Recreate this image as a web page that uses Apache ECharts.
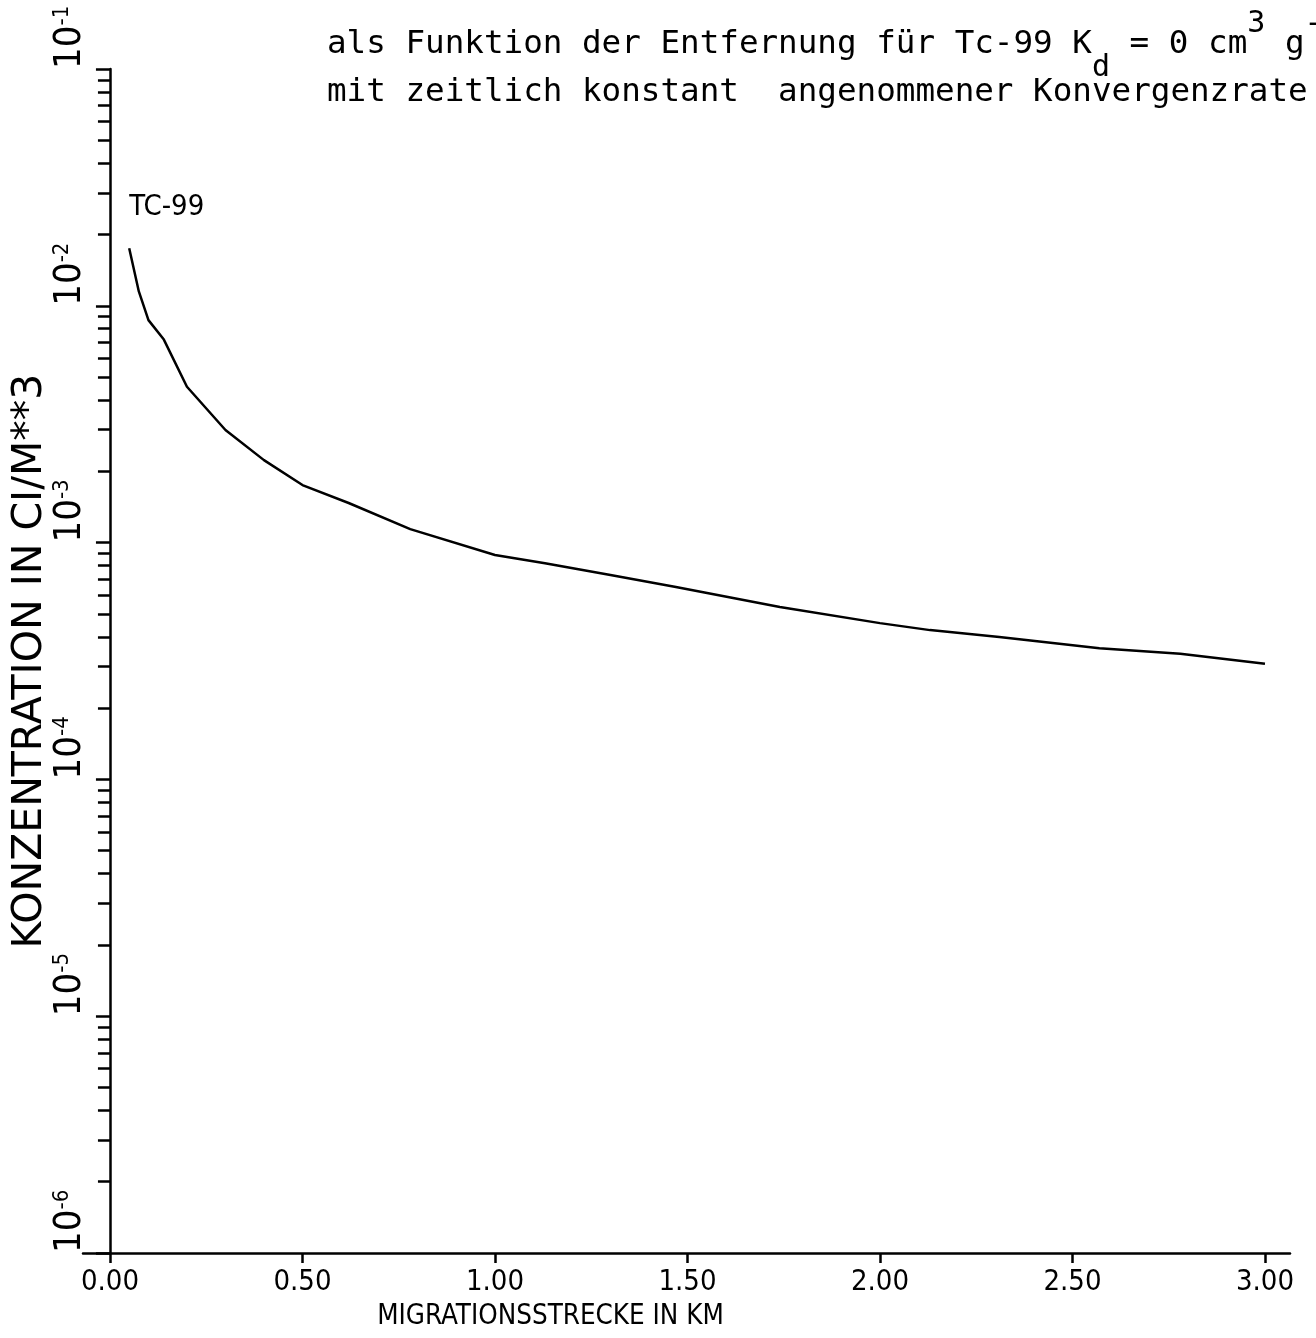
<!DOCTYPE html>
<html>
<head>
<meta charset="utf-8">
<script src="https://cdn.jsdelivr.net/npm/echarts@6/dist/echarts.min.js"></script>
<style>
  html, body { margin: 0; padding: 0; background: #fff; }
  #chart { width: 1316px; height: 1338px; }
</style>
</head>
<body>
<div id="chart"></div>
<script>
// ---- data ----
const xKm = [0.05, 0.075, 0.10, 0.14, 0.20, 0.30, 0.40, 0.50, 0.62, 0.78, 1.00, 1.13, 1.30, 1.47, 1.74, 2.00, 2.13, 2.31, 2.57, 2.78, 3.00];
const concTc99 = [1.75e-2, 1.15e-2, 8.7e-3, 7.2e-3, 4.55e-3, 2.99e-3, 2.23e-3, 1.75e-3, 1.47e-3, 1.14e-3, 8.87e-4, 8.18e-4, 7.3e-4, 6.5e-4, 5.35e-4, 4.57e-4, 4.27e-4, 3.99e-4, 3.58e-4, 3.39e-4, 3.08e-4];
const seriesName = 'TC-99';
const xTickValues = [0, 0.5, 1.0, 1.5, 2.0, 2.5, 3.0];
const xTickLabels = ['0.00', '0.50', '1.00', '1.50', '2.00', '2.50', '3.00'];
const yDecadeExponents = [-6, -5, -4, -3, -2, -1];
const xTitle = 'MIGRATIONSSTRECKE IN KM';
const yTitle = 'KONZENTRATION IN CI/M**3';

const chart = echarts.init(document.getElementById('chart'), null, { renderer: 'canvas' });

const lineData = xKm.map((x, i) => [x, concTc99[i]]);
const plotFont = '"DejaVu Sans Condensed", "DejaVu Sans", sans-serif';
const monoFont = '"DejaVu Sans Mono", monospace';

const option = {
  backgroundColor: '#ffffff',
  animation: false,
  title: {
    left: 322,
    top: 16,
    text: '{n|als Funktion der Entfernung für Tc-99 K}{sub|d}{n| = 0 cm}{sup|3}{n| g}{sup|-1}\n{n|mit zeitlich konstant  angenommener Konvergenzrate}',
    textStyle: {
      fontWeight: 'normal',
      rich: {
        n: { fontFamily: monoFont, fontWeight: 'normal', fontSize: 32.6, lineHeight: 48, color: '#000' },
        sub: { fontFamily: monoFont, fontWeight: 'normal', fontSize: 30, lineHeight: 48, verticalAlign: 'bottom', color: '#000', padding: [0, 0, -14, 0] },
        sup: { fontFamily: monoFont, fontWeight: 'normal', fontSize: 30, lineHeight: 48, verticalAlign: 'top', color: '#000', padding: [-12, 0, 0, 0] }
      }
    }
  },
  grid: { left: 83, right: 26, top: 69, bottom: 85, containLabel: false, outerBoundsMode: 'none' },
  xAxis: {
    type: 'value',
    min: -0.07,
    max: 3.065,
    name: xTitle,
    nameLocation: 'middle',
    nameGap: 50,
    nameTextStyle: { fontFamily: plotFont, fontSize: 27.5, color: '#000', padding: [0, 272, 0, 0] },
    axisLine: { onZero: false, lineStyle: { color: '#000', width: 2.5 } },
    axisTick: { show: true, customValues: xTickValues, length: 10, lineStyle: { color: '#000', width: 2.5 } },
    axisLabel: {
      customValues: xTickValues,
      margin: 15,
      fontFamily: plotFont,
      fontSize: 29,
      color: '#000',
      formatter: v => {
        const i = xTickValues.findIndex(t => Math.abs(t - v) < 1e-9);
        return i >= 0 ? xTickLabels[i] : '';
      }
    },
    splitLine: { show: false }
  },
  yAxis: {
    type: 'log',
    logBase: 10,
    min: Math.pow(10, yDecadeExponents[0]),
    max: Math.pow(10, yDecadeExponents[yDecadeExponents.length - 1]),
    name: yTitle,
    nameLocation: 'middle',
    nameGap: 32,
    nameMoveOverlap: false,
    nameTextStyle: { fontFamily: '"DejaVu Sans", sans-serif', fontSize: 41, color: '#000' },
    axisLine: { onZero: true, lineStyle: { color: '#000', width: 2.5 } },
    axisTick: { show: true, length: 14, lineStyle: { color: '#000', width: 2.5 } },
    minorTick: { show: true, splitNumber: 9, length: 12, lineStyle: { color: '#000', width: 2.5 } },
    axisLabel: {
      rotate: 90,
      align: 'left',
      margin: -6,
      formatter: v => {
        const e = Math.round(Math.log10(v));
        return yDecadeExponents.includes(e) ? '{b|10}{s|' + e + '}' : '';
      },
      rich: {
        b: { fontFamily: plotFont, fontSize: 38, lineHeight: 38, color: '#000' },
        s: { fontFamily: plotFont, fontSize: 22, lineHeight: 38, verticalAlign: 'top', color: '#000' }
      }
    },
    splitLine: { show: false },
    minorSplitLine: { show: false }
  },
  series: [
    {
      name: seriesName,
      type: 'line',
      data: lineData,
      symbol: 'none',
      smooth: false,
      lineStyle: { color: '#000', width: 2.5 },
      z: 3
    },
    {
      name: seriesName + ' label',
      type: 'scatter',
      data: [lineData[0]],
      symbolSize: 0,
      itemStyle: { color: '#000' },
      label: {
        show: true,
        formatter: seriesName,
        position: 'top',
        align: 'left',
        distance: 26,
        fontFamily: plotFont,
        fontSize: 29,
        color: '#000',
        opacity: 1
      },
      z: 4
    }
  ]
};

chart.setOption(option);
</script>
</body>
</html>
